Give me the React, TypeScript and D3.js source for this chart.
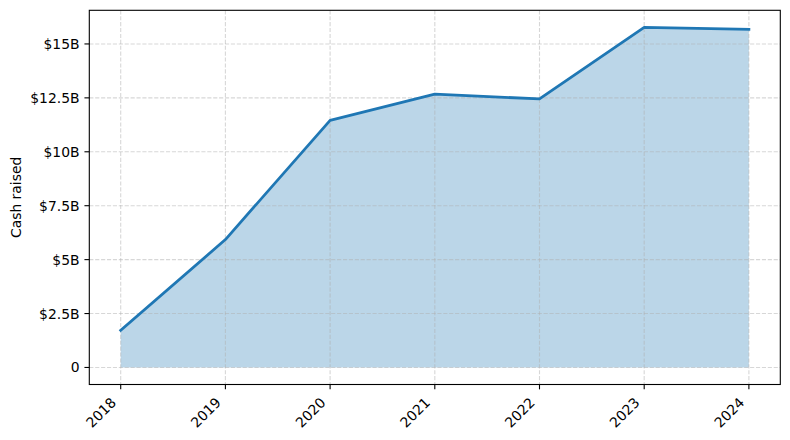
import React, { useEffect, useRef } from "react";
import * as d3 from "d3";

const years = [2018, 2019, 2020, 2021, 2022, 2023, 2024];
const cashRaised = [1.72, 5.93, 11.46, 12.67, 12.45, 15.77, 15.68]; // $B
const yTicks = [0, 2.5, 5, 7.5, 10, 12.5, 15];
const yLabel = "Cash raised";

const W = 790;
const H = 440;
const M = { left: 89.3, top: 10.3, right: 790 - 780.3, bottom: 440 - 384.5 };
const FONT = "DejaVu Sans";
const FS = 13.9;
const TICK = 4.86;

function App() {
  const svgRef: any = useRef(null);

  useEffect(() => {
    draw();
  }, []);

  const draw = () => {
    const svg = d3.select(svgRef.current);
    svg.selectAll("*").remove();

    const x = d3
      .scaleLinear()
      .domain([2017.7, 2024.3])
      .range([M.left, W - M.right]);
    const y = d3
      .scaleLinear()
      .domain([-0.79, 16.56])
      .range([H - M.bottom, M.top]);

    const data = years.map((yr, i) => ({ yr, v: cashRaised[i] }));

    // fill under the line
    svg
      .append("path")
      .datum(data)
      .attr("fill", "#1f77b4")
      .attr("fill-opacity", 0.3)
      .attr(
        "d",
        d3
          .area<any>()
          .x((d) => x(d.yr))
          .y0(y(0))
          .y1((d) => y(d.v))
      );

    // gridlines
    const grid = svg.append("g");
    grid
      .selectAll("line.gx")
      .data(years)
      .join("line")
      .attr("x1", (d) => x(d))
      .attr("x2", (d) => x(d))
      .attr("y1", M.top)
      .attr("y2", H - M.bottom);
    grid
      .selectAll("line.gy")
      .data(yTicks)
      .join("line")
      .attr("x1", M.left)
      .attr("x2", W - M.right)
      .attr("y1", (d) => y(d))
      .attr("y2", (d) => y(d));
    grid
      .selectAll("line")
      .attr("stroke", "#b0b0b0")
      .attr("stroke-opacity", 0.5)
      .attr("stroke-width", 1.1)
      .attr("stroke-dasharray", "4.1,1.8");

    // line
    svg
      .append("path")
      .datum(data)
      .attr("fill", "none")
      .attr("stroke", "#1f77b4")
      .attr("stroke-width", 2.78)
      .attr("stroke-linejoin", "round")
      .attr("stroke-linecap", "square")
      .attr(
        "d",
        d3
          .line<any>()
          .x((d) => x(d.yr))
          .y((d) => y(d.v))
      );

    // spines
    svg
      .append("rect")
      .attr("x", M.left)
      .attr("y", M.top)
      .attr("width", W - M.left - M.right)
      .attr("height", H - M.top - M.bottom)
      .attr("fill", "none")
      .attr("stroke", "#000")
      .attr("stroke-width", 1.1);

    // x ticks
    const xb = H - M.bottom;
    const xt = svg.append("g");
    xt.selectAll("line")
      .data(years)
      .join("line")
      .attr("x1", (d) => x(d))
      .attr("x2", (d) => x(d))
      .attr("y1", xb)
      .attr("y2", xb + TICK)
      .attr("stroke", "#000")
      .attr("stroke-width", 1.1);
    xt.selectAll("text")
      .data(years)
      .join("text")
      .attr("transform", (d) => `translate(${x(d) - 3.7},${xb + 19})rotate(-45)`)
      .attr("text-anchor", "end")
      .attr("font-family", FONT)
      .attr("font-size", FS)
      .attr("fill", "#000")
      .text((d) => String(d));

    // y ticks
    const yt = svg.append("g");
    yt.selectAll("line")
      .data(yTicks)
      .join("line")
      .attr("x1", M.left - TICK)
      .attr("x2", M.left)
      .attr("y1", (d) => y(d))
      .attr("y2", (d) => y(d))
      .attr("stroke", "#000")
      .attr("stroke-width", 1.1);
    yt.selectAll("text")
      .data(yTicks)
      .join("text")
      .attr("x", M.left - TICK * 2)
      .attr("y", (d) => y(d))
      .attr("dy", "0.36em")
      .attr("text-anchor", "end")
      .attr("font-family", FONT)
      .attr("font-size", FS)
      .attr("fill", "#000")
      .text((d) => (d === 0 ? "0" : `$${d}B`));

    // y label
    svg
      .append("text")
      .attr("transform", `translate(21,${(M.top + H - M.bottom) / 2})rotate(-90)`)
      .attr("text-anchor", "middle")
      .attr("font-family", FONT)
      .attr("font-size", FS)
      .attr("fill", "#000")
      .text(yLabel);
  };

  return (
    <div>
      <svg
        ref={svgRef}
        width={W}
        height={H}
        style={{ position: "absolute", left: 0, top: 0, background: "#fff" }}
      />
    </div>
  );
}

export default App;
